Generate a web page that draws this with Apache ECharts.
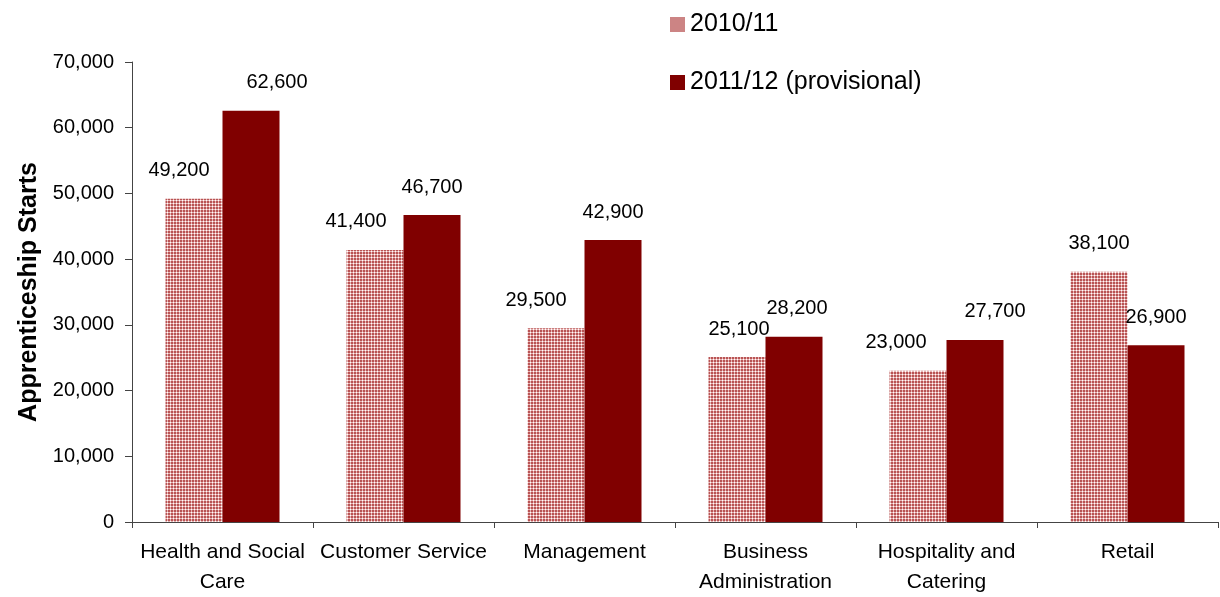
<!DOCTYPE html>
<html>
<head>
<meta charset="utf-8">
<script src="https://cdn.jsdelivr.net/npm/echarts@6/dist/echarts.min.js"></script>
<style>
html, body { margin: 0; padding: 0; background: #fff; }
#chart { width: 1220px; height: 597px; }
</style>
</head>
<body>
<div id="chart"></div>
<script>
var categories = ['Health and Social\nCare', 'Customer Service', 'Management', 'Business\nAdministration', 'Hospitality and\nCatering', 'Retail'];
var starts_1011 = [49200, 41400, 29500, 25100, 23000, 38100];
var starts_1112 = [62600, 46700, 42900, 28200, 27700, 26900];
var series_names = ['2010/11', '2011/12 (provisional)'];
var y_ticks = [0, 10000, 20000, 30000, 40000, 50000, 60000, 70000];

// label nudges, as placed by hand in the original
var shift_1011 = [-15, -19, -20, 2, -22, 0];
var shift_1112 = [26, 0, 0, 3, 20, 0];

// checker pattern for the 2010/11 bars
function make_hatch() {
    var c = document.createElement('canvas');
    c.width = 3;
    c.height = 3;
    var ctx = c.getContext('2d');
    ctx.fillStyle = '#e8b4b4';
    ctx.fillRect(0, 0, 3, 3);
    ctx.fillStyle = '#b85454';
    ctx.fillRect(0, 0, 2, 2);
    ctx.fillStyle = '#ffffff';
    ctx.fillRect(2, 2, 1, 1);
    return c;
}
var hatch = { image: make_hatch(), repeat: 'repeat' };

function fmt(v) {
    return echarts.format.addCommas(v);
}

function build_data(vals, shifts) {
    var out = [];
    for (var i = 0; i < vals.length; i++) {
	out.push({ value: vals[i], label: { offset: [shifts[i], 0] } });
    }
    return out;
}

var label_style = {
    show: true,
    position: 'top',
    distance: 18,
    color: '#000',
    fontSize: 20,
    fontFamily: 'Liberation Sans, Arial, sans-serif',
    formatter: function (p) { return fmt(p.value); }
};

var chart = echarts.init(document.getElementById('chart'));
var option = {
    animation: false,
    textStyle: { fontFamily: 'Liberation Sans, Arial, sans-serif' },
    legend: {
	orient: 'vertical',
	left: 665,
	top: 7,
	itemWidth: 15,
	itemHeight: 15,
	itemGap: 33,
	icon: 'rect',
	textStyle: { fontSize: 25, color: '#000', lineHeight: 25 },
	data: [
	    { name: series_names[0], itemStyle: { color: '#cc8484' } },
	    { name: series_names[1] }
	]
    },
    grid: { left: 132, right: 2, top: 62, bottom: 74, containLabel: false },
    xAxis: {
	type: 'category',
	data: categories,
	axisLine: { lineStyle: { color: '#444', width: 1 } },
	axisTick: { show: true, length: 6, lineStyle: { color: '#444' } },
	axisLabel: { color: '#000', fontSize: 21, margin: 15, lineHeight: 30, interval: 0 }
    },
    yAxis: {
	type: 'value',
	min: y_ticks[0],
	max: y_ticks[y_ticks.length - 1],
	interval: 10000,
	name: 'Apprenticeship Starts',
	nameLocation: 'middle',
	nameGap: 85,
	nameTextStyle: { fontSize: 25, fontWeight: 'bold', color: '#000' },
	splitLine: { show: false },
	axisLine: { show: true, lineStyle: { color: '#444', width: 1 } },
	axisTick: { show: true, length: 7, lineStyle: { color: '#444' } },
	axisLabel: { color: '#000', fontSize: 20, margin: 18, formatter: fmt }
    },
    series: [
	{
	    name: series_names[0],
	    type: 'bar',
	    barWidth: 57,
	    barGap: '0%',
	    itemStyle: { color: hatch },
	    label: label_style,
	    data: build_data(starts_1011, shift_1011)
	},
	{
	    name: series_names[1],
	    type: 'bar',
	    barWidth: 57,
	    barGap: '0%',
	    itemStyle: { color: '#800000' },
	    label: label_style,
	    data: build_data(starts_1112, shift_1112)
	}
    ]
};
chart.setOption(option);
</script>
</body>
</html>
